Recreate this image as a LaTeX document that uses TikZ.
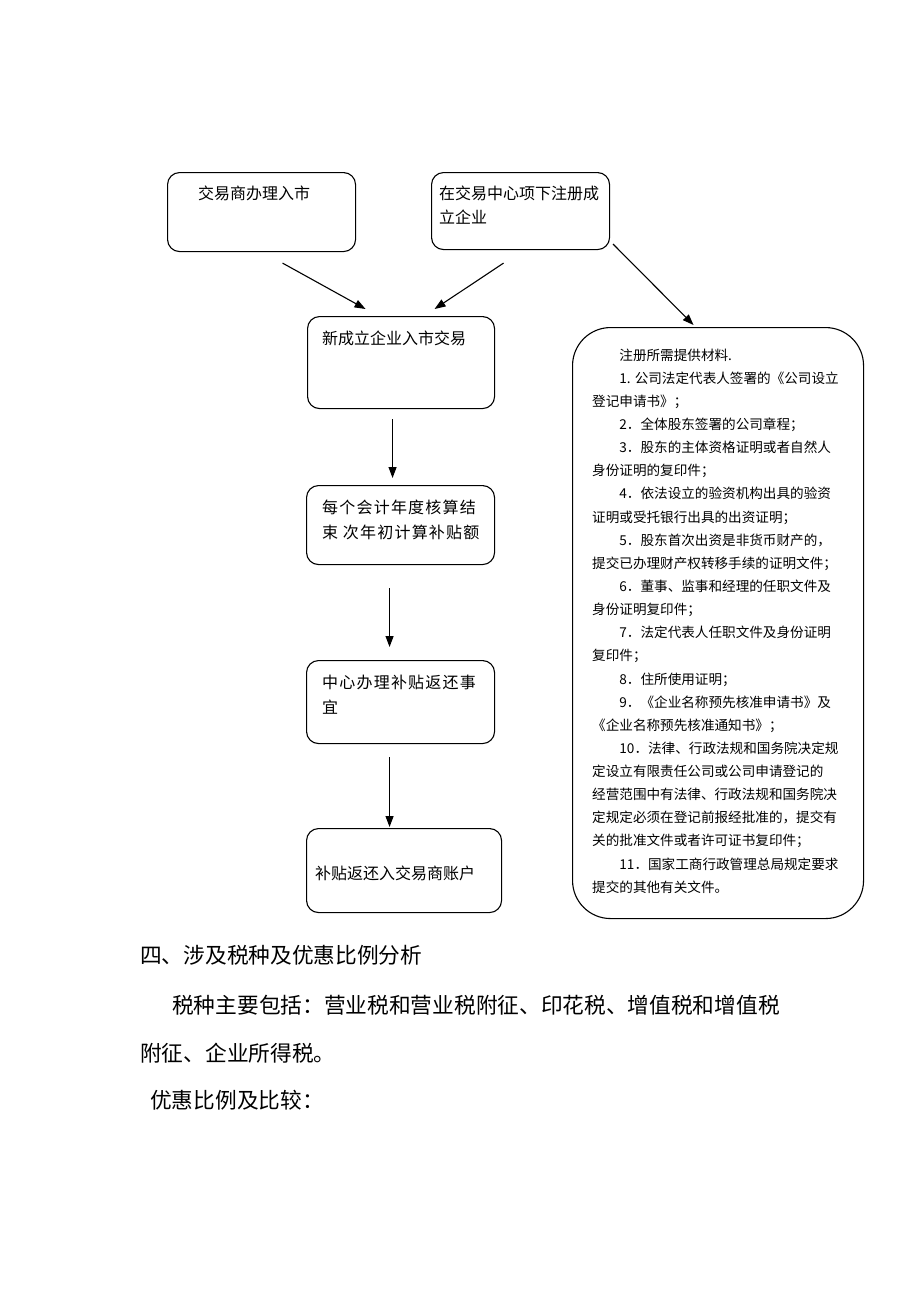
\documentclass[tikz,border=0pt]{standalone}
\usepackage{fontspec}
\newfontfamily\cjk{Noto Sans CJK SC}
\newfontfamily\cjkwide[LetterSpace=7.5]{Noto Sans CJK SC}
\usetikzlibrary{arrows.meta}
\tikzset{
    stepbox/.style={
           draw, line width=1.1pt,
           rounded corners=12pt,
           anchor=north west,
           inner sep=0pt,
           },
}
\tikzset{
    steptext/.style={
           font=\cjk\fontsize{16}{24.5}\selectfont,
           align=left,
           anchor=west,
           inner sep=0pt,
           },
}
\tikzset{
    flow/.style={
           line width=1.1pt,
           -{Triangle[length=11pt,width=8pt]},
           },
}
\tikzset{
    para/.style={
           font=\cjk\fontsize{21.7}{30}\selectfont,
           anchor=west,
           inner sep=0pt,
           },
}

\begin{document}
\begin{tikzpicture}[x=1pt,y=-1pt]
\useasboundingbox (0,0) rectangle (920,1302);
\node[stepbox,minimum width=188,minimum height=79](trader) at (167,172){};
\node[steptext](trader text) at (198,193){交易商办理入市};
\node[stepbox,minimum width=178,minimum height=77](register) at (431,172){};
\node[steptext](register text) at (439,205){在交易中心项下注册成\\立企业};
\node[stepbox,minimum width=187,minimum height=92](newco) at (307,316){};
\node[steptext](newco text) at (322,338){新成立企业入市交易};
\node[stepbox,minimum width=188,minimum height=79](yearend) at (306,485){};
\node[steptext,font=\cjkwide\fontsize{16}{25}\selectfont](yearend text) at (322,519.5){每个会计年度核算结\\束 次年初计算补贴额};
\node[stepbox,minimum width=188,minimum height=83](refund) at (306,660){};
\node[steptext,font=\cjkwide\fontsize{16}{25}\selectfont](refund text) at (322,694.5){中心办理补贴返还事\\宜};
\node[stepbox,minimum width=195,minimum height=84](account) at (306,828){};
\node[steptext](account text) at (315,873){补贴返还入交易商账户};
\node[stepbox,rounded corners=38pt,minimum width=291,minimum height=591](docs) at (572,327){};
\node[steptext,font=\cjk\fontsize{13.6}{23.13}\selectfont](docs text) at (592,621){%
\hspace*{2em}注册所需提供材料.\\
\hspace*{2em}1. 公司法定代表人签署的《公司设立\\
登记申请书》；\\
\hspace*{2em}2．全体股东签署的公司章程；\\
\hspace*{2em}3．股东的主体资格证明或者自然人\\
身份证明的复印件；\\
\hspace*{2em}4．依法设立的验资机构出具的验资\\
证明或受托银行出具的出资证明；\\
\hspace*{2em}5．股东首次出资是非货币财产的，\\
提交已办理财产权转移手续的证明文件；\\
\hspace*{2em}6．董事、监事和经理的任职文件及\\
身份证明复印件；\\
\hspace*{2em}7．法定代表人任职文件及身份证明\\
复印件；\\
\hspace*{2em}8．住所使用证明；\\
\hspace*{2em}9．《企业名称预先核准申请书》及\\
《企业名称预先核准通知书》；\\
\hspace*{2em}10．法律、行政法规和国务院决定规\\
定设立有限责任公司或公司申请登记的\\
经营范围中有法律、行政法规和国务院决\\
定规定必须在登记前报经批准的，提交有\\
关的批准文件或者许可证书复印件；\\
\hspace*{2em}11．国家工商行政管理总局规定要求\\
提交的其他有关文件。};
\draw[flow] ([shift={(21,11)}]trader.south) -- ([shift={(-35.5,-7)}]newco.north);
\draw[flow] ([shift={(-17,13)}]register.south) -- ([shift={(33.5,-7)}]newco.north);
\draw[flow] ([shift={(3,-6)}]register.south east) -- ([shift={(-24.5,-2)}]docs.north);
\draw[flow] ([shift={(-8.5,10)}]newco.south) -- ([shift={(-8,-7)}]yearend.north);
\draw[flow] ([shift={(-11,23)}]yearend.south) -- ([shift={(-11,-13)}]refund.north);
\draw[flow] ([shift={(-11,13)}]refund.south) -- ([shift={(-14.5,-1)}]account.north);
\node[para](section) at (140,955){四、涉及税种及优惠比例分析};
\node[para](taxes) at (172,1005){税种主要包括：营业税和营业税附征、印花税、增值税和增值税};
\node[para](taxes cont) at (140,1053){附征、企业所得税。};
\node[para](rates) at (150,1100){优惠比例及比较：};
\end{tikzpicture}
\end{document}
